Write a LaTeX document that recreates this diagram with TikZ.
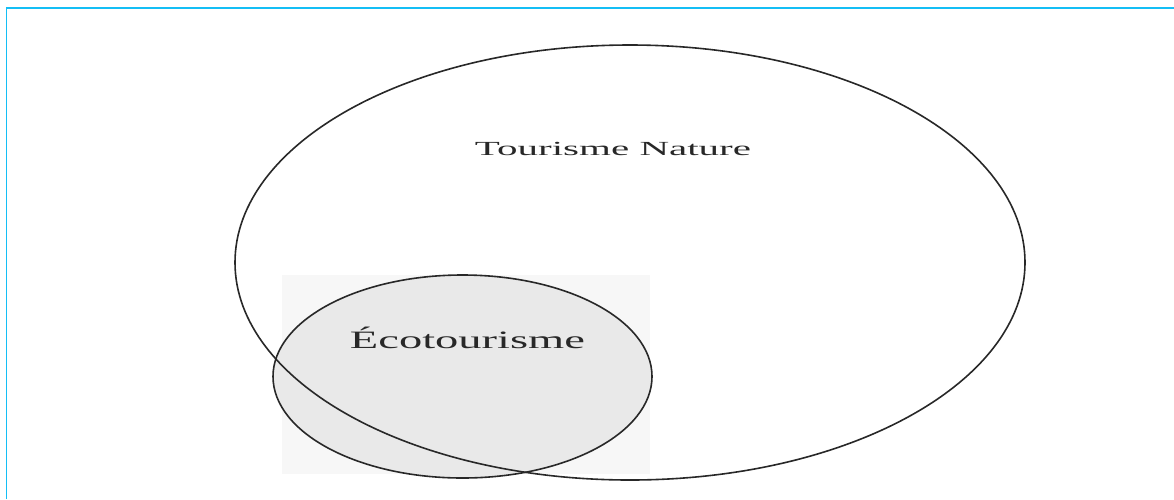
\documentclass[tikz,border=0pt]{standalone}
\usepackage{fontspec}
\setmainfont{Liberation Serif}
\usetikzlibrary{shapes.geometric}
\definecolor{framecyan}{RGB}{20,190,245}
\definecolor{linegray}{RGB}{40,40,40}
\definecolor{circfill}{RGB}{233,233,233}
\definecolor{rectfill}{RGB}{247,247,247}
\tikzset{
  setshape/.style={ellipse, draw=linegray, line width=1.6pt, inner sep=0pt, outer sep=0pt},
  label text/.style={anchor=base, text=linegray, inner sep=0pt},
}
\begin{document}
\begin{tikzpicture}[x=1pt,y=-1pt]
\useasboundingbox (0,0) rectangle (1174,499);
% frame (top and left edges only)
\coordinate (fbl) at (6.5,499);
\coordinate (ftl) at (6.5,8);
\coordinate (ftr) at (1174,8);
\draw[framecyan, line width=1.8pt] (fbl) -- (ftl) -- (ftr);
% light background patch behind the small circle
\fill[rectfill] (282,275) rectangle (650,474);
% Ecotourisme circle
\node[setshape, fill=circfill, minimum width=379pt, minimum height=203pt] (eco) at (462.5,376.5) {};
% Tourisme Nature ellipse
\node[setshape, minimum width=790pt, minimum height=435pt] (nature) at (630,262.5) {};
% labels
\node[label text, font=\fontsize{20}{24}\selectfont, xscale=2.05] (tn) at (613,155) {Tourisme Nature};
\node[label text, font=\fontsize{25}{30}\selectfont, xscale=1.86] (et) at (467.5,348) {Écotourisme};
\end{tikzpicture}
\end{document}
